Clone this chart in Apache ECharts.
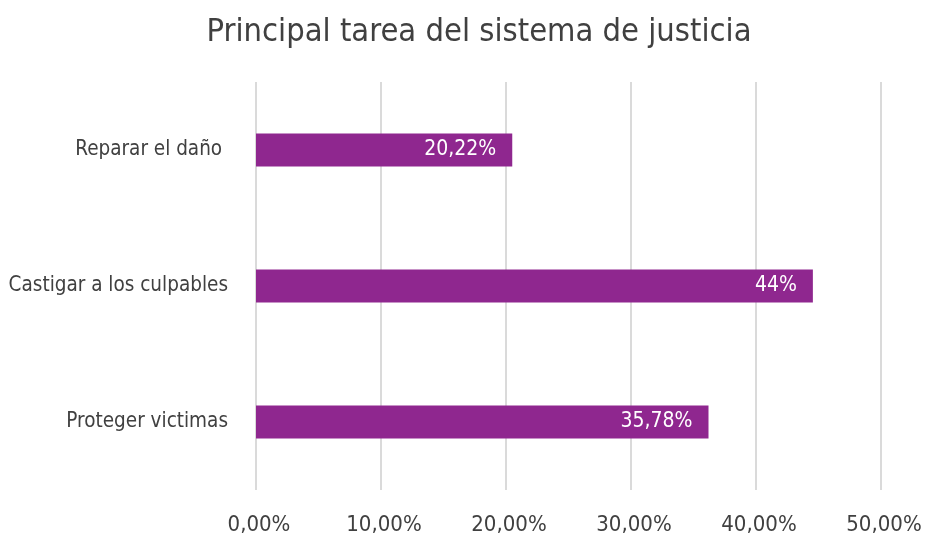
<!DOCTYPE html>
<html>
<head>
<meta charset="utf-8">
<script src="https://cdn.jsdelivr.net/npm/echarts@6/dist/echarts.min.js"></script>
<style>
  html, body { margin: 0; padding: 0; background: #fff; }
  #chart { width: 928px; height: 537px; }
</style>
</head>
<body>
<div id="chart"></div>
<script>
// datos del grafico
var categorias = ['Reparar el daño ', 'Castigar a los culpables', 'Proteger victimas'];
var valores = [20.5, 44.55, 36.2]; // largo de barra
var etiquetas = ['20,22%', '44%', '35,78%'];
var ticks = [0, 10, 20, 30, 40, 50];

var fuente = "'Liberation Sans Narrow', 'DejaVu Sans Condensed', sans-serif";

var myChart = echarts.init(document.getElementById('chart'));

var option = {
    animation: false,
    title: {
        text: 'Principal tarea del sistema de justicia',
        left: 474,
        textAlign: 'center',
        top: 12,
        textStyle: {
            fontFamily: fuente,
            fontSize: 32.4,
            fontWeight: 'normal',
            color: '#404040'
        }
    },
    grid: {
        left: 256,
        right: 47,
        top: 82,
        bottom: 47,
        outerBoundsMode: 'none',
        containLabel: false
    },
    xAxis: {
        type: 'value',
        min: ticks[0],
        max: ticks[ticks.length - 1],
        interval: 10,
        axisLine: { show: false },
        axisTick: { show: false },
        splitLine: { lineStyle: { color: '#dadada', width: 2 } },
        axisLabel: {
            margin: 24,
            padding: [0, 0, 0, 6],
            fontFamily: fuente,
            fontSize: 22,
            color: '#404040',
            formatter: function (v) {
                return v.toFixed(2).replace('.', ',') + '%';
            }
        }
    },
    yAxis: {
        type: 'category',
        inverse: true,
        data: categorias,
        axisLine: { show: false },
        axisTick: { show: false },
        axisLabel: {
            margin: 28,
            fontFamily: fuente,
            fontSize: 20.5,
            color: '#404040'
        }
    },
    series: [{
        type: 'bar',
        data: valores,
        barWidth: 33,
        itemStyle: { color: '#8f278f' },
        label: {
            show: true,
            position: 'insideRight',
            distance: 16,
            fontFamily: fuente,
            fontSize: 21,
            color: '#ffffff',
            formatter: function (p) {
                return etiquetas[p.dataIndex];
            }
        }
    }]
};

myChart.setOption(option);
</script>
</body>
</html>
